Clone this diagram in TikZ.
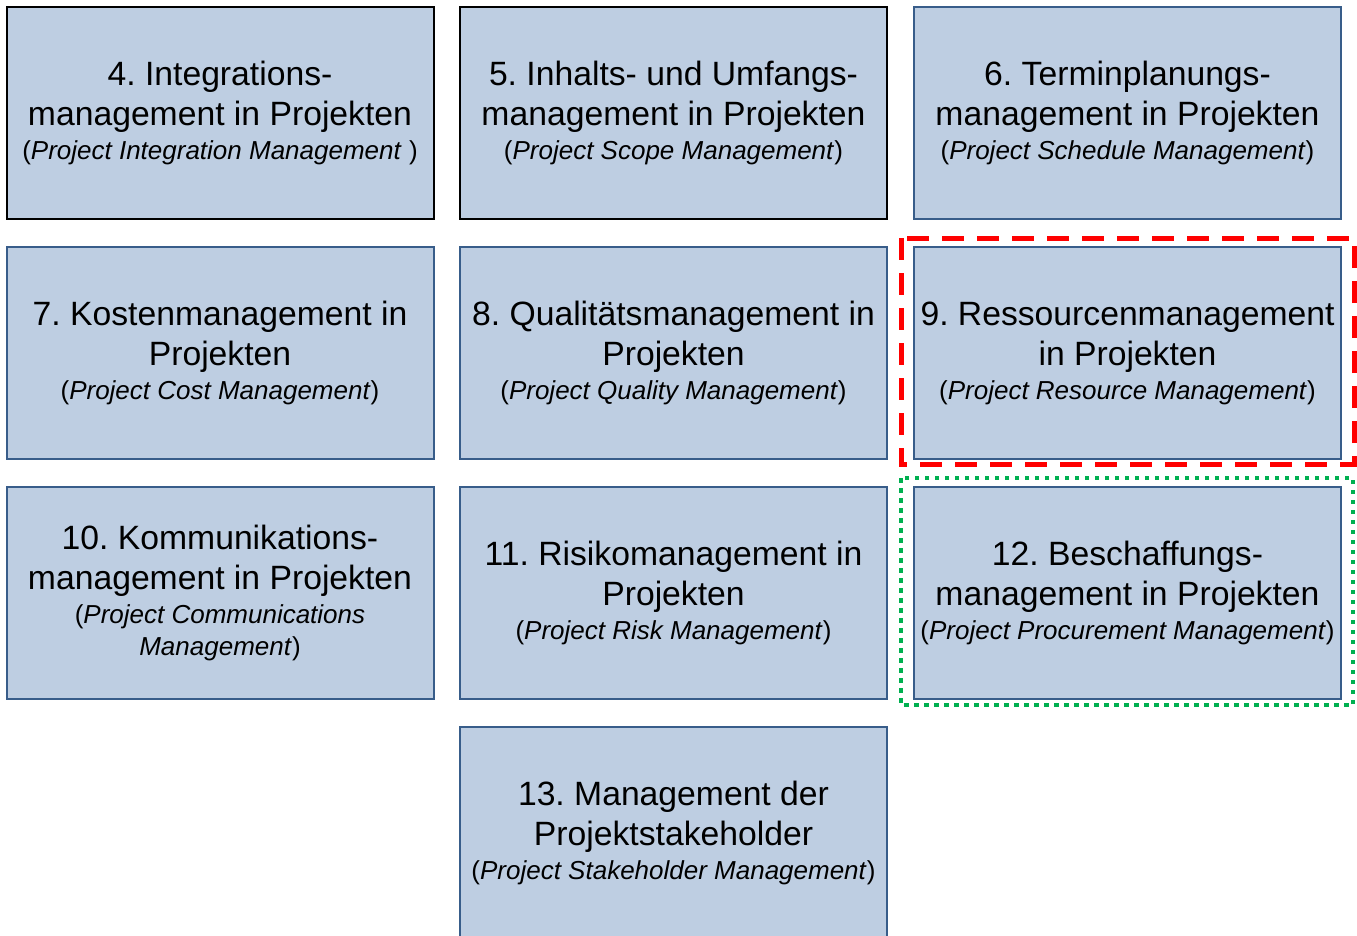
\documentclass[tikz,border=0pt]{standalone}
\usepackage{fontspec}
\setmainfont{Liberation Sans}
\frenchspacing
\definecolor{flaeche}{RGB}{190,206,226}
\definecolor{rand}{RGB}{56,93,138}
\definecolor{rot}{RGB}{255,0,0}
\definecolor{gruen}{RGB}{0,176,80}
\newcommand{\engl}[1]{{\fontsize{26}{32}\selectfont #1}}
\tikzset{
  gebiet/.style={draw=rand, line width=2pt, fill=flaeche, minimum width=427pt, minimum height=212pt,
    align=center, inner sep=0pt, font=\fontsize{33.7}{40}\selectfont},
  schwarz/.style={draw=black}
}
\begin{document}
\begin{tikzpicture}[x=1pt,y=-1pt]
\useasboundingbox (0,0) rectangle (1357,935);
\node[gebiet,schwarz] (g4) at (220,112.5) {4. Integrations-\\management in Projekten\\[-6pt]\engl{(\textit{Project Integration Management} )}};
\node[gebiet,schwarz] (g5) at (673.5,112.5) {5. Inhalts- und Umfangs-\\management in Projekten\\[-6pt]\engl{(\textit{Project Scope Management})}};
\node[gebiet] (g6) at (1127.5,112.5) {6. Terminplanungs-\\management in Projekten\\[-6pt]\engl{(\textit{Project Schedule Management})}};
\node[gebiet] (g7) at (220,353) {7. Kostenmanagement in\\Projekten\\[-6pt]\engl{(\textit{Project Cost Management})}};
\node[gebiet] (g8) at (673.5,353) {8. Qualitätsmanagement in\\Projekten\\[-6pt]\engl{(\textit{Project Quality Management})}};
\node[gebiet] (g9) at (1127.5,353) {9. Ressourcenmanagement\\in Projekten\\[-6pt]\engl{(\textit{Project Resource Management})}};
\node[gebiet] (g10) at (220,592.5) {10. Kommunikations-\\management in Projekten\\[-6pt]\engl{(\textit{Project Communications}}\\[-8pt]\engl{\textit{Management})}};
\node[gebiet] (g11) at (673.5,592.5) {11. Risikomanagement in\\Projekten\\[-6pt]\engl{(\textit{Project Risk Management})}};
\node[gebiet] (g12) at (1127.5,592.5) {12. Beschaffungs-\\management in Projekten\\[-6pt]\engl{(\textit{Project Procurement Management})}};
\node[gebiet] (g13) at (673.5,833) {13. Management der\\Projektstakeholder\\[-6pt]\engl{(\textit{Project Stakeholder Management})}};
\draw[rot, line width=5pt, dash pattern=on 22pt off 13pt] (901,238) rectangle (1354,464);
\draw[gruen, line width=4.5pt, dash pattern=on 4.5pt off 5.5pt] (901,478) rectangle (1353,705);
\end{tikzpicture}
\end{document}
